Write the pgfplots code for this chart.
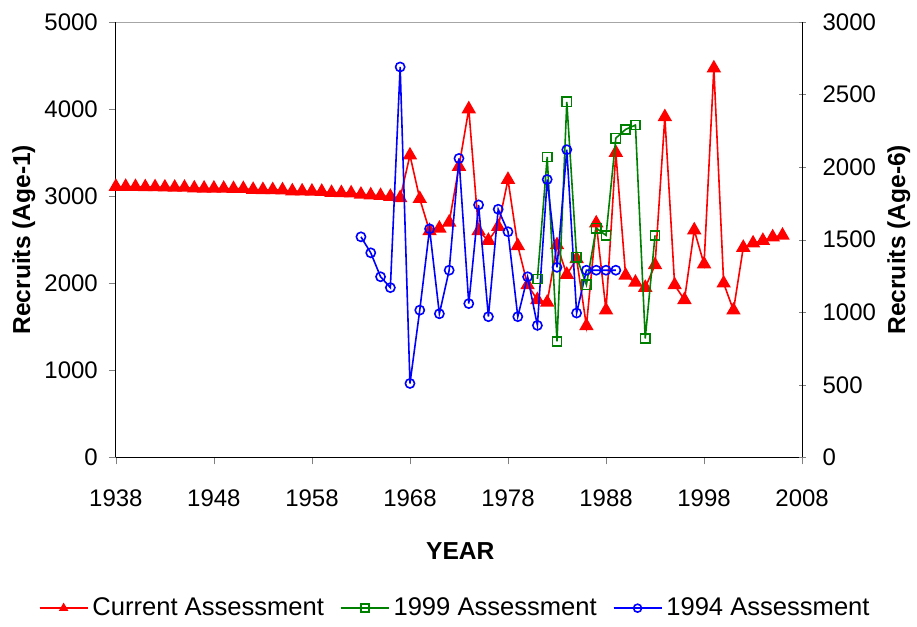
\documentclass[border=0pt]{standalone}
\usepackage{fontspec}
\setmainfont{Liberation Sans}
\usepackage{pgfplots}
\pgfplotsset{compat=1.18}

\definecolor{exgreen}{RGB}{0,128,0}

\pgfplotsset{
  common/.style={
    scale only axis,
    width=343.5pt, height=218pt,
    xmin=1938, xmax=2008,
    xtick={1938,1948,...,2008},
    /pgf/number format/1000 sep={},
    /pgf/number format/assume math mode=true,
    tick label style={font=\fontsize{12}{14}\selectfont},
    label style={font=\fontsize{12.3}{14}\selectfont\bfseries},
    major tick length=3.5pt,
  },
}

\begin{document}
\begin{tikzpicture}
\begin{axis}[common, name=ax1,
  axis x line*=bottom, axis y line*=left,
  tick align=outside,
  ymin=0, ymax=5000, ytick distance=1000,
  yticklabel style={xshift=-2pt},
  xticklabel style={yshift=-9pt},
  xlabel={YEAR}, ylabel={Recruits (Age-1)},
  xlabel style={at={(axis description cs:0.502,-0.2156)}, anchor=center},
  ylabel style={at={(axis description cs:-0.134,0.5)}, anchor=center},
  clip=false,
]
\draw[gray!70] (rel axis cs:0,1) -- (rel axis cs:1,1);
\addplot[red, line width=0.8pt, mark=triangle*, mark size=3.4pt] coordinates {
(1938,3110) (1939,3110) (1940,3108) (1941,3105) (1942,3105) (1943,3102)
(1944,3100) (1945,3100) (1946,3092) (1947,3090) (1948,3090) (1949,3088)
(1950,3085) (1951,3085) (1952,3075) (1953,3073) (1954,3072) (1955,3070)
(1956,3058) (1957,3057) (1958,3055) (1959,3053) (1960,3040) (1961,3038)
(1962,3035) (1963,3020) (1964,3012) (1965,3005) (1966,2995) (1967,2980)
(1968,3470) (1969,2970) (1970,2600) (1971,2630) (1972,2700) (1973,3340)
(1974,4000) (1975,2600) (1976,2490) (1977,2650) (1978,3190) (1979,2430)
(1980,1980) (1981,1810) (1982,1780) (1983,2440) (1984,2100) (1985,2280)
(1986,1510) (1987,2690) (1988,1690) (1989,3500) (1990,2090) (1991,2010)
(1992,1950) (1993,2210) (1994,3910) (1995,1980) (1996,1810) (1997,2610)
(1998,2220) (1999,4470) (2000,2000) (2001,1690) (2002,2410) (2003,2460)
(2004,2490) (2005,2530) (2006,2550)
};
\end{axis}

\begin{axis}[common,
  axis x line=none, axis y line*=right,
  tick align=center,
  ymin=0, ymax=3000, ytick distance=500,
  yticklabel style={xshift=5pt},
  ylabel={Recruits (Age-6)},
  ylabel style={at={(axis description cs:1.141,0.5)}, anchor=center},
  legend style={draw=none, at={(0.496,-0.346)}, anchor=center,
    font=\fontsize{12.8}{15}\selectfont, legend columns=3,
    /tikz/every even column/.append style={column sep=6pt}},
  legend image code/.code={
    \draw[#1] (0pt,0pt) -- (24pt,0pt);
    \draw[#1, mark size=2pt, mark repeat=2, mark phase=2] plot coordinates {(0pt,0pt) (12pt,0pt) (24pt,0pt)};
  },
]
\addlegendimage{red, line width=0.8pt, mark=triangle*}
\addlegendentry{Current Assessment}
\addplot[exgreen, line width=0.8pt, mark=square, mark size=2.3pt, mark options={solid}] coordinates {
(1981,1230) (1982,2070) (1983,800) (1984,2450) (1985,1380) (1986,1190)
(1987,1580) (1988,1530) (1989,2200) (1990,2260) (1991,2290) (1992,820)
(1993,1530)
};
\addlegendentry{1999 Assessment}
\addplot[blue, line width=0.8pt, mark=o, mark size=2.3pt] coordinates {
(1963,1520) (1964,1410) (1965,1245) (1966,1170) (1967,2690) (1968,510)
(1969,1015) (1970,1575) (1971,990) (1972,1290) (1973,2060) (1974,1060)
(1975,1740) (1976,970) (1977,1710) (1978,1555) (1979,970) (1980,1245)
(1981,910) (1982,1915) (1983,1310) (1984,2120) (1985,995) (1986,1290)
(1987,1290) (1988,1290) (1989,1290)
};
\addlegendentry{1994 Assessment}
\end{axis}
\path ([shift={(-58pt,-83.5pt)}]ax1.south west) rectangle ([shift={(57pt,11pt)}]ax1.north east);
\end{tikzpicture}
\end{document}
